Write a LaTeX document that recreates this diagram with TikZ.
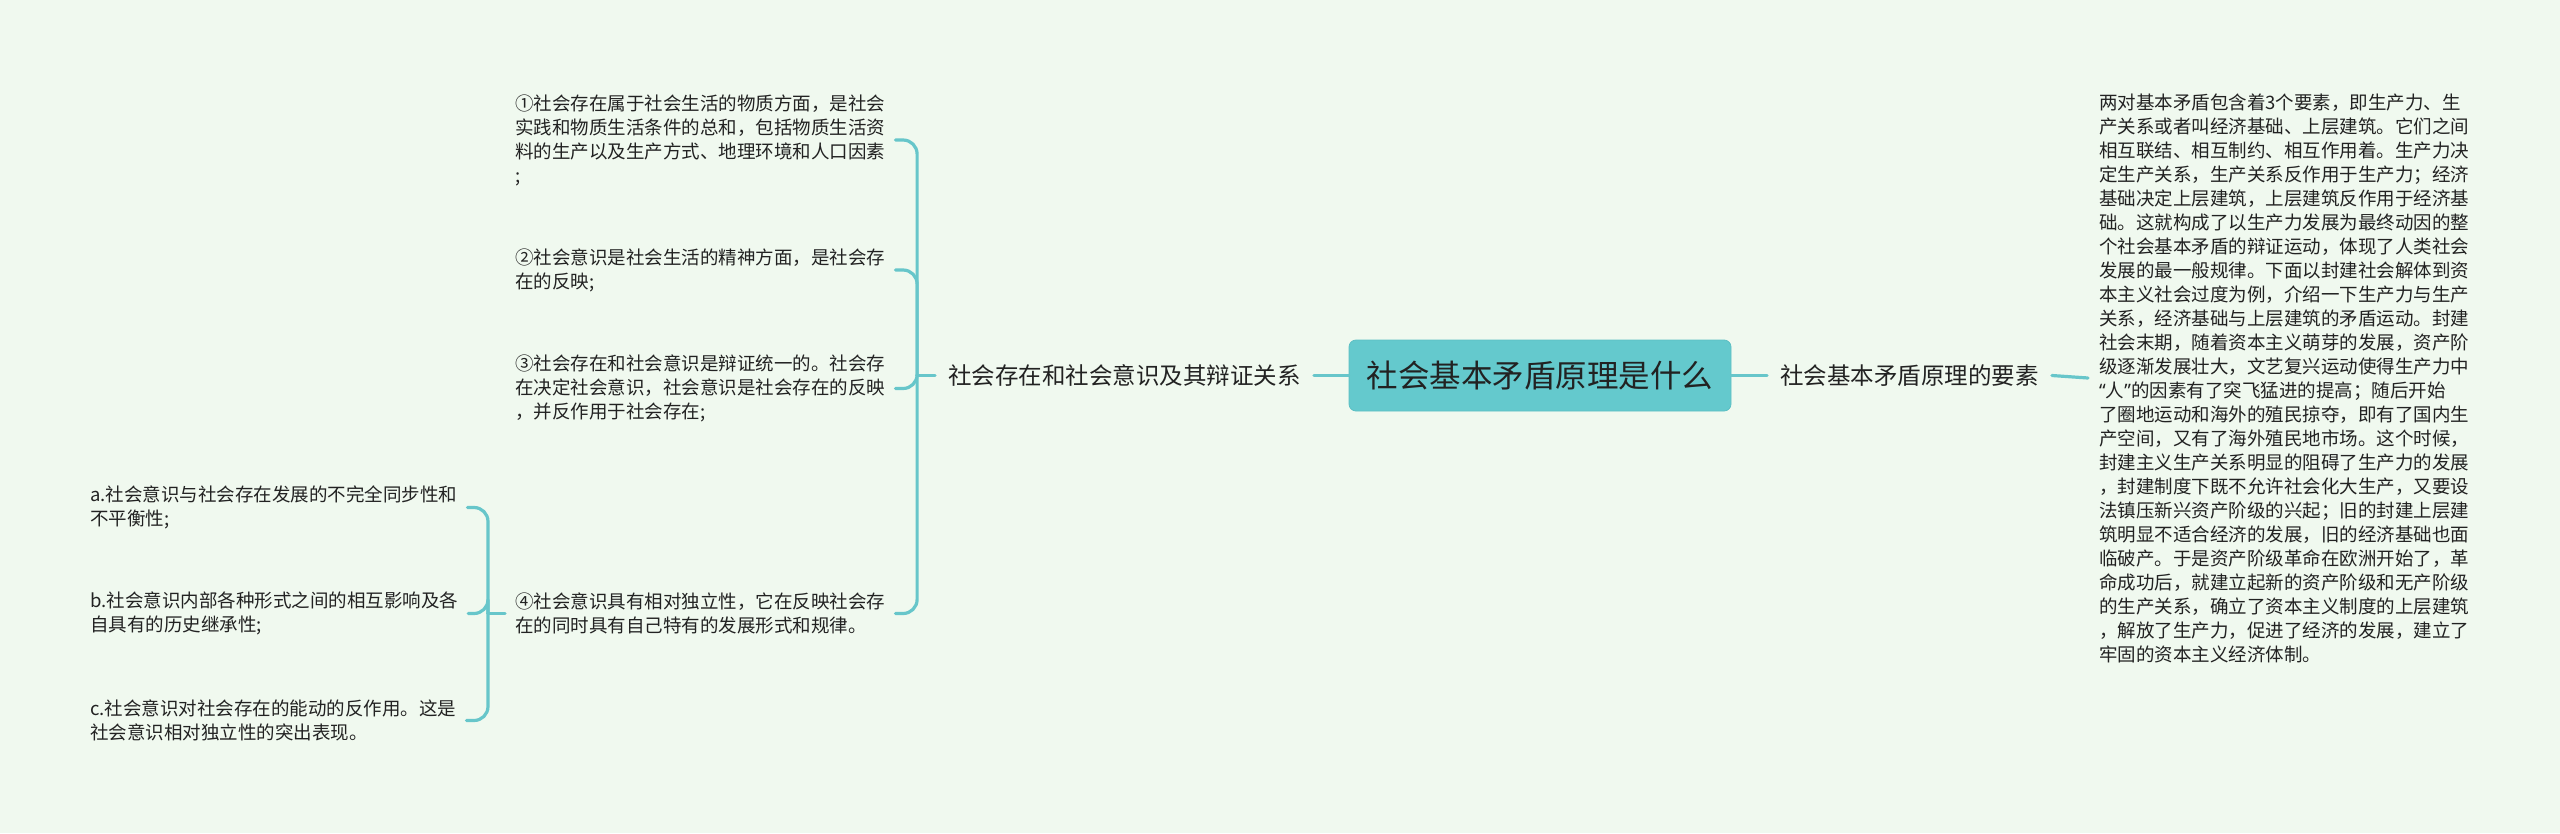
\documentclass[tikz,border=0pt]{standalone}
\usepackage{fontspec}
\setmainfont{Noto Sans CJK SC}
\newfontfamily\latinq{Noto Sans}
\definecolor{bgmint}{HTML}{F0F9EF}
\definecolor{lineteal}{HTML}{67C6CA}
\definecolor{boxteal}{HTML}{64C9CD}
\definecolor{boxedge}{HTML}{5CBFC3}
\definecolor{ink}{HTML}{222222}
\begin{document}
\begin{tikzpicture}[x=1pt,y=-1pt,
  conn/.style={draw=lineteal, line width=3.2pt, line cap=round},
  bracket/.style={conn, rounded corners=14pt},
  txt/.style={font=\fontsize{18.5}{24}\selectfont, text=ink, align=left, inner xsep=10pt, inner ysep=0pt, anchor=west},
  branch/.style={font=\fontsize{23.5}{28}\selectfont, text=ink, inner xsep=13pt, inner ysep=2pt},
  rootbox/.style={fill=boxteal, draw=boxedge, line width=0.8pt, rounded corners=7pt, minimum width=382pt, minimum height=71pt, font=\fontsize{31.5}{36}\selectfont, text=ink, inner sep=0pt}]
\fill[bgmint] (0,0) rectangle (2560,833);
\useasboundingbox (0,0) rectangle (2560,833);

\node[rootbox] (root) at (1540,375.5) {社会基本矛盾原理是什么};
\node[branch, anchor=east] (L1) at (1314,375.5) {社会存在和社会意识及其辩证关系};
\node[branch, anchor=west] (R1) at (1767,375.5) {社会基本矛盾原理的要素};

\node[txt, inner xsep=11pt] (R2) at (2088,378) {两对基本矛盾包含着3个要素，即生产力、生\\产关系或者叫经济基础、上层建筑。它们之间\\相互联结、相互制约、相互作用着。生产力决\\定生产关系，生产关系反作用于生产力；经济\\基础决定上层建筑，上层建筑反作用于经济基\\础。这就构成了以生产力发展为最终动因的整\\个社会基本矛盾的辩证运动，体现了人类社会\\发展的最一般规律。下面以封建社会解体到资\\本主义社会过度为例，介绍一下生产力与生产\\关系，经济基础与上层建筑的矛盾运动。封建\\社会末期，随着资本主义萌芽的发展，资产阶\\级逐渐发展壮大，文艺复兴运动使得生产力中\\{\latinq “}人{\latinq ”}的因素有了突飞猛进的提高；随后开始\\了圈地运动和海外的殖民掠夺，即有了国内生\\产空间，又有了海外殖民地市场。这个时候，\\封建主义生产关系明显的阻碍了生产力的发展\\，封建制度下既不允许社会化大生产，又要设\\法镇压新兴资产阶级的兴起；旧的封建上层建\\筑明显不适合经济的发展，旧的经济基础也面\\临破产。于是资产阶级革命在欧洲开始了，革\\命成功后，就建立起新的资产阶级和无产阶级\\的生产关系，确立了资本主义制度的上层建筑\\，解放了生产力，促进了经济的发展，建立了\\牢固的资本主义经济体制。};

\node[txt] (i1) at (505,140) {①社会存在属于社会生活的物质方面，是社会\\实践和物质生活条件的总和，包括物质生活资\\料的生产以及生产方式、地理环境和人口因素\\;};
\node[txt] (i2) at (505,270) {②社会意识是社会生活的精神方面，是社会存\\在的反映;};
\node[txt] (i3) at (505,388.5) {③社会存在和社会意识是辩证统一的。社会存\\在决定社会意识，社会意识是社会存在的反映\\，并反作用于社会存在;};
\node[txt] (i4) at (505,613.5) {④社会意识具有相对独立性，它在反映社会存\\在的同时具有自己特有的发展形式和规律。};

\node[txt] (a) at (80,507.5) {a.社会意识与社会存在发展的不完全同步性和\\不平衡性;};
\node[txt] (b) at (80,613.5) {b.社会意识内部各种形式之间的相互影响及各\\自具有的历史继承性;};
\node[txt] (c) at (80,720.5) {c.社会意识对社会存在的能动的反作用。这是\\社会意识相对独立性的突出表现。};

\draw[conn] (root.west) -- (L1.east);
\draw[conn] (root.east) -- (R1.west);
\draw[conn] (R1.east) -- (R2.west);

\path (L1.west) ++(-18,0) coordinate (t1);
\draw[conn] (L1.west) -- (t1);
\draw[bracket] (t1) |- (i1.east);
\draw[bracket] (t1) |- (i2.east);
\draw[bracket] (t1) |- (i3.east);
\draw[bracket] (t1) |- (i4.east);

\path (i4.west) ++(-17,0) coordinate (t2);
\draw[conn] (i4.west) -- (t2);
\draw[bracket] (t2) |- (a.east);
\draw[bracket] (t2) |- (b.east);
\draw[bracket] (t2) |- (c.east);
\end{tikzpicture}
\end{document}
